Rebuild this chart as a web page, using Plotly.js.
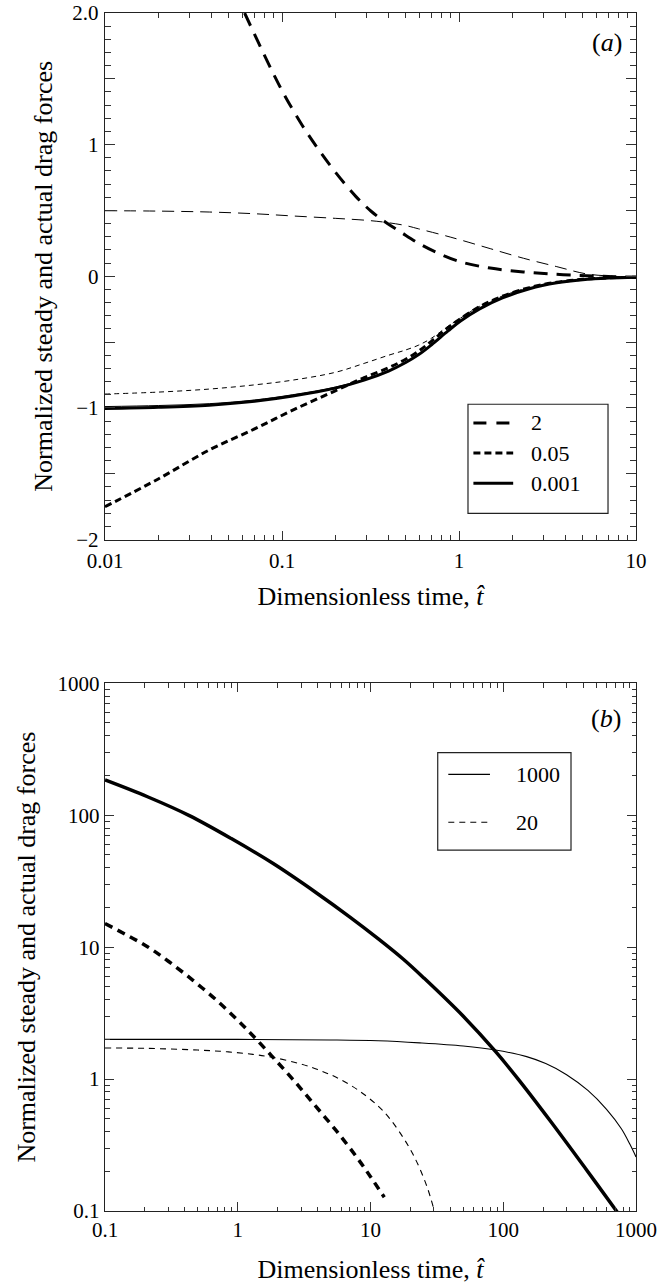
<!DOCTYPE html>
<html>
<head>
<meta charset="utf-8">
<script src="https://cdn.plot.ly/plotly-3.0.1.min.js"></script>
<style>
@font-face { font-family: 'PlotSerif'; font-style: normal; src: local('Liberation Serif'), local('LiberationSerif'), local('LiberationSerif-Regular'); }
@font-face { font-family: 'PlotSerif'; font-style: italic; src: local('Liberation Serif Italic'), local('LiberationSerif-Italic'); }
html,body{margin:0;padding:0;background:#fff;}
#chart{width:657px;height:1287px;}
svg text, svg tspan { font-family: 'Liberation Serif', 'Times New Roman', serif !important; }
</style>
</head>
<body>
<div id="chart"></div>
<script>
// ---------- Panel (a) data ----------
const tA_actual2 = [0.0615, 0.07, 0.08, 0.09, 0.103, 0.13, 0.16, 0.2, 0.261, 0.32, 0.383, 0.47, 0.592, 0.75, 1.02, 1.5, 2.31, 3.5, 5.25, 7.5, 10];
const fA_actual2 = [2.0, 1.837, 1.672, 1.531, 1.379, 1.147, 0.967, 0.792, 0.607, 0.492, 0.413, 0.335, 0.25, 0.18, 0.11, 0.062, 0.033, 0.015, 0.004, -0.003, -0.008];

const tA_steady2 = [0.01, 0.02, 0.0388, 0.07, 0.115, 0.2, 0.3, 0.383, 0.5, 0.592, 0.8, 1.02, 1.5, 2.31, 3.57, 5.25, 7.5, 10];
const fA_steady2 = [0.498, 0.495, 0.488, 0.475, 0.458, 0.44, 0.425, 0.41, 0.385, 0.36, 0.315, 0.276, 0.21, 0.137, 0.073, 0.018, 0.0, -0.008];

const tA_005 = [0.01, 0.02, 0.0388, 0.07, 0.115, 0.2, 0.291, 0.4, 0.5, 0.592, 0.7, 0.867, 1.02, 1.3, 1.76, 2.5, 3.57, 5, 7, 10];
const fA_actual005 = [-1.751, -1.54, -1.320, -1.16, -1.017, -0.87, -0.77, -0.695, -0.63, -0.568, -0.493, -0.39, -0.322, -0.233, -0.152, -0.086, -0.045, -0.023, -0.012, -0.008];
const fA_steady005 = [-0.895, -0.88, -0.857, -0.825, -0.789, -0.73, -0.662, -0.60, -0.56, -0.523, -0.47, -0.38, -0.318, -0.23, -0.15, -0.085, -0.044, -0.022, -0.011, -0.008];

const tA_0001 = [0.01, 0.02, 0.0388, 0.07, 0.115, 0.2, 0.291, 0.4, 0.5, 0.592, 0.7, 0.867, 1.02, 1.3, 1.76, 2.5, 3.57, 5, 7, 10];
const fA_actual0001 = [-1.004, -0.995, -0.979, -0.95, -0.910, -0.85, -0.789, -0.72, -0.655, -0.595, -0.52, -0.415, -0.34, -0.25, -0.165, -0.095, -0.05, -0.026, -0.014, -0.008];
const fA_steady0001 = [-0.99, -0.982, -0.968, -0.94, -0.90, -0.842, -0.783, -0.716, -0.652, -0.593, -0.518, -0.414, -0.339, -0.249, -0.165, -0.095, -0.05, -0.026, -0.014, -0.008];

// ---------- Panel (b) data ----------
const tB_actual1000 = [0.1, 0.209, 0.432, 0.894, 1.85, 3.83, 7, 11.4, 17.6, 25.4, 50, 87.3, 130, 225, 418, 695, 794];
const fB_actual1000 = [185, 138, 99.3, 66.5, 43.0, 26.2, 16.9, 11.6, 8.13, 5.8, 2.99, 1.62, 0.995, 0.485, 0.209, 0.1035, 0.086];

const tB_steady1000 = [0.1, 1, 5, 11.4, 23.5, 50, 87.3, 150, 209, 300, 434, 600, 776, 900, 1000];
const fB_steady1000 = [2.0, 2.0, 1.98, 1.95, 1.88, 1.78, 1.66, 1.48, 1.31, 1.08, 0.82, 0.59, 0.42, 0.32, 0.257];

const tB_actual20 = [0.1, 0.209, 0.3, 0.46, 0.7, 1.0, 1.28, 1.8, 2.6, 3.8, 5.5, 7.87, 10, 12.7];
const fB_actual20 = [15.1, 10.07, 7.82, 5.6, 3.92, 2.79, 2.17, 1.50, 0.995, 0.635, 0.408, 0.256, 0.182, 0.127];

const tB_steady20 = [0.1, 0.2, 0.5, 0.83, 1.3, 1.84, 3, 4, 5.47, 8, 11.4, 14, 17.6, 20.5, 23.6, 27, 30];
const fB_steady20 = [1.72, 1.71, 1.66, 1.61, 1.54, 1.46, 1.30, 1.18, 1.035, 0.83, 0.625, 0.50, 0.361, 0.279, 0.208, 0.147, 0.1035];

// ---------- Tick labels ----------
const xTickValsA = [0.01, 0.1, 1, 10];
const xTickTextA = ['0.01', '0.1', '1', '10'];
const yTickValsA = [-2, -1.5, -1, -0.5, 0, 0.5, 1, 1.5, 2];
const yTickTextA = ['\u22122', '', '\u22121', '', '0', '', '1', '', '2.0'];
const tickValsB = [0.1, 1, 10, 100, 1000];
const tickTextB = ['0.1', '1', '10', '100', '1000'];

const legendA = ['2', '0.05', '0.001'];
const legendB = ['1000', '20'];

const FONT = 'Liberation Serif, PlotSerif, Times New Roman, serif';
const BLACK = '#000';

function logMinor(lo, hi) {
  const v = [];
  for (let e = lo; e < hi; e++) {
    for (let k = 2; k <= 9; k++) v.push(+(k * Math.pow(10, e)).toPrecision(6));
  }
  return v;
}

function line(x, y, xa, ya, width, dash) {
  return {x: x, y: y, xaxis: xa, yaxis: ya, type: 'scatter', mode: 'lines',
          line: {color: BLACK, width: width, dash: dash, shape: 'spline', smoothing: 1},
          showlegend: false, hoverinfo: 'skip'};
}

function buildTraces() {
  return [
    line(tA_steady2, fA_steady2, 'x', 'y', 1, '12px,7px'),
    line(tA_005, fA_steady005, 'x', 'y', 1, '5px,4px'),
    line(tA_0001, fA_steady0001, 'x', 'y', 1, 'solid'),
    line(tA_actual2, fA_actual2, 'x', 'y', 3, '14px,9px'),
    line(tA_005, fA_actual005, 'x', 'y', 3, '7px,4px'),
    line(tA_0001, fA_actual0001, 'x', 'y', 3, 'solid'),
    line(tB_steady1000, fB_steady1000, 'x2', 'y2', 1.1, 'solid'),
    line(tB_steady20, fB_steady20, 'x2', 'y2', 1.1, '6px,5px'),
    line(tB_actual1000, fB_actual1000, 'x2', 'y2', 3.5, 'solid'),
    line(tB_actual20, fB_actual20, 'x2', 'y2', 3.5, '8px,6px')
  ];
}

function axBase() {
  return {
    showline: true, linecolor: '#222', linewidth: 1.2, mirror: 'allticks',
    ticks: 'inside', ticklen: 9, tickwidth: 1, tickcolor: '#333',
    showgrid: false, zeroline: false,
    tickfont: {family: FONT, size: 21, color: BLACK}
  };
}
const minorLog = (lo, hi) => ({tickmode: 'array', tickvals: logMinor(lo, hi), ticks: 'inside', ticklen: 4.5, tickcolor: '#333', showgrid: false});
const titleFont = () => ({family: FONT, size: 26, color: BLACK});
const legFont = () => ({family: FONT, size: 22, color: BLACK});

function buildLayout() {
  return {
    width: 657, height: 1287,
    margin: {l: 105, r: 21, t: 13, b: 76},
    paper_bgcolor: '#fff', plot_bgcolor: '#fff',
    font: {family: FONT, size: 20, color: BLACK},
    showlegend: false,
    xaxis: Object.assign(axBase(), {
      type: 'log', range: [-2, 1], anchor: 'y', domain: [0, 1],
      tickmode: 'array', tickvals: xTickValsA, ticktext: xTickTextA, ticklabelstandoff: 2,
      minor: minorLog(-2, 1),
      title: {text: 'Dimensionless time, <i>t\u0302</i>', font: titleFont(), standoff: 14}
    }),
    yaxis: Object.assign(axBase(), {
      range: [-2, 2], anchor: 'x', domain: [0.5605, 1],
      tickmode: 'array', tickvals: yTickValsA, ticktext: yTickTextA, ticklen: 10, ticklabelstandoff: 1,
      minor: {tickmode: 'linear', tick0: 0, dtick: 0.1, ticks: 'inside', ticklen: 6, tickcolor: '#333', showgrid: false},
      title: {text: 'Normalized steady and actual drag forces', font: titleFont(), standoff: 12}
    }),
    xaxis2: Object.assign(axBase(), {
      type: 'log', range: [-1, 3], anchor: 'y2', domain: [0, 1],
      tickmode: 'array', tickvals: tickValsB, ticktext: tickTextB,
      minor: minorLog(-1, 3),
      title: {text: 'Dimensionless time, <i>t\u0302</i>', font: titleFont(), standoff: 18}
    }),
    yaxis2: Object.assign(axBase(), {
      type: 'log', range: [-1, 3], anchor: 'x2', domain: [0, 0.4405],
      tickmode: 'array', tickvals: tickValsB, ticktext: tickTextB,
      minor: minorLog(-1, 3),
      title: {text: 'Normalized steady and actual drag forces', font: titleFont(), standoff: 14}
    }),
    shapes: [
      {type: 'rect', xref: 'paper', yref: 'paper', x0: 0.6836, x1: 0.9473, y0: 0.5824, y1: 0.6734, line: {color: '#222', width: 1.2}, fillcolor: 'rgba(0,0,0,0)'},
      {type: 'line', xref: 'paper', yref: 'paper', x0: 0.6938, x1: 0.7687, y0: 0.6578, y1: 0.6578, line: {color: BLACK, width: 3, dash: '13px,10px'}},
      {type: 'line', xref: 'paper', yref: 'paper', x0: 0.6938, x1: 0.7687, y0: 0.6327, y1: 0.6327, line: {color: BLACK, width: 3, dash: '7px,4px'}},
      {type: 'line', xref: 'paper', yref: 'paper', x0: 0.6938, x1: 0.7687, y0: 0.6074, y1: 0.6074, line: {color: BLACK, width: 3}},
      {type: 'rect', xref: 'paper', yref: 'paper', x0: 0.6266, x1: 0.8776, y0: 0.3013, y1: 0.3827, line: {color: '#222', width: 1.2}, fillcolor: 'rgba(0,0,0,0)'},
      {type: 'line', xref: 'paper', yref: 'paper', x0: 0.6465, x1: 0.7250, y0: 0.3645, y1: 0.3645, line: {color: BLACK, width: 1.2}},
      {type: 'line', xref: 'paper', yref: 'paper', x0: 0.6465, x1: 0.7250, y0: 0.3245, y1: 0.3245, line: {color: BLACK, width: 1.2, dash: '6px,5px'}}
    ],
    annotations: [
      {xref: 'paper', yref: 'paper', x: 0.7985, y: 0.6578, text: legendA[0], showarrow: false, xanchor: 'left', yanchor: 'middle', font: legFont()},
      {xref: 'paper', yref: 'paper', x: 0.7985, y: 0.6327, text: legendA[1], showarrow: false, xanchor: 'left', yanchor: 'middle', font: legFont()},
      {xref: 'paper', yref: 'paper', x: 0.7985, y: 0.6074, text: legendA[2], showarrow: false, xanchor: 'left', yanchor: 'middle', font: legFont()},
      {xref: 'paper', yref: 'paper', x: 0.7702, y: 0.3645, text: legendB[0], showarrow: false, xanchor: 'left', yanchor: 'middle', font: legFont()},
      {xref: 'paper', yref: 'paper', x: 0.7702, y: 0.3245, text: legendB[1], showarrow: false, xanchor: 'left', yanchor: 'middle', font: legFont()},
      {xref: 'paper', yref: 'paper', x: 0.9454, y: 0.975, text: '(<i>a</i>)', showarrow: false, xanchor: 'center', yanchor: 'middle', font: titleFont()},
      {xref: 'paper', yref: 'paper', x: 0.9444, y: 0.4107, text: '(<i>b</i>)', showarrow: false, xanchor: 'center', yanchor: 'middle', font: titleFont()}
    ]
  };
}

const config = {staticPlot: true, displayModeBar: false};
const gd = document.getElementById('chart');

function touchStyles() {
  const els = gd.querySelectorAll('text');
  for (let i = 0; i < els.length; i++) { void getComputedStyle(els[i]).fontFamily; }
}

Plotly.newPlot(gd, buildTraces(), buildLayout(), config).then(function () {
  touchStyles();
  const redraw = function () {
    Plotly.purge(gd);
    return Plotly.newPlot(gd, buildTraces(), buildLayout(), config).then(touchStyles);
  };
  const waitFonts = (document.fonts && document.fonts.load)
    ? Promise.all([
        document.fonts.load('21px "Liberation Serif"'),
        document.fonts.load('italic 26px "Liberation Serif"'),
        document.fonts.ready
      ])
    : Promise.resolve();
  waitFonts.then(redraw, redraw);
});
</script>
</body>
</html>
